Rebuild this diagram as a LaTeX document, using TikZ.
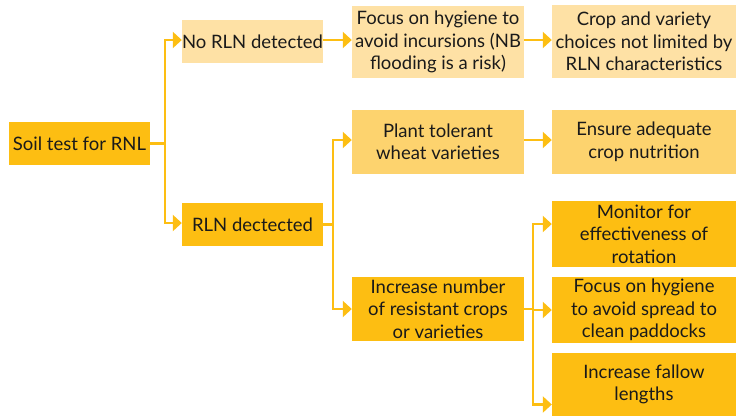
\documentclass[tikz,border=0pt]{standalone}
\usepackage{fontspec}
\setmainfont{Lato}
\usetikzlibrary{arrows.meta,positioning,calc}
\definecolor{cdark}{HTML}{FDBE12}
\definecolor{cmed}{HTML}{FDD36E}
\definecolor{clight}{HTML}{FEE1A5}
\definecolor{ctext}{HTML}{1A1A1A}
\definecolor{carrow}{HTML}{FDBE12}
\begin{document}
\begin{tikzpicture}[x=1pt,y=-1pt,
  box/.style={rectangle, inner sep=0pt, align=center, text=ctext,
    font=\fontsize{18.5}{22.5}\selectfont},
  bdark/.style={box, fill=cdark},
  bmed/.style={box, fill=cmed},
  blight/.style={box, fill=clight},
  conn/.style={draw=carrow, line width=2.4pt},
  arr/.style={conn, -{Triangle[length=9pt,width=16pt]}}]
\useasboundingbox (0,0) rectangle (736,416);
\node[bdark, minimum width=141pt, minimum height=43pt] (soil) at (79.5,143.5) {Soil test for RNL};
\node[blight, minimum width=141pt, minimum height=43pt] (norln) at (252.5,41.5) {No RLN detected};
\node[bdark, minimum width=141pt, minimum height=43pt] (rln) at (252.5,224.5) {RLN dectected};
\node[blight, minimum width=172pt, minimum height=72pt] (focus1) at (438,42) {Focus on hygiene to\\avoid incursions (NB\\flooding is a risk)};
\node[blight, minimum width=184pt, minimum height=73pt] (crop) at (644,41.5) {Crop and variety\\choices not limited by\\RLN characteristics};
\node[bmed, minimum width=172pt, minimum height=64pt] (plant) at (438,142) {Plant tolerant\\wheat varieties};
\node[bmed, minimum width=184pt, minimum height=64pt] (ensure) at (644,142) {Ensure adequate\\crop nutrition};
\node[bdark, minimum width=172pt, minimum height=64pt] (incr) at (438,309) {Increase number\\of resistant crops\\or varieties};
\node[bdark, minimum width=184pt, minimum height=66pt] (monitor) at (644,234) {Monitor for\\effectiveness of\\rotation};
\node[bdark, minimum width=184pt, minimum height=66pt] (focus2) at (644,310) {Focus on hygiene\\to avoid spread to\\clean paddocks};
\node[bdark, minimum width=184pt, minimum height=63pt] (fallow) at (644,384.5) {Increase fallow\\lengths};
\coordinate (t1) at (165,143.5);
\coordinate (t2) at (333,224.5);
\coordinate (t3) at (533,309);
\draw[conn] (soil.east) -- (t1);
\draw[arr] (t1) |- ([yshift=1.5pt]norln.west);
\draw[arr] (t1) |- ([yshift=1.5pt]rln.west);
\draw[arr] ([yshift=1.5pt]norln.east) -- ([yshift=1.5pt]norln.east -| focus1.west);
\draw[arr] ([yshift=1.5pt]norln.east -| focus1.east) -- ([yshift=1.5pt]norln.east -| crop.west);
\draw[conn] (rln.east) -- (t2);
\draw[arr] (t2) |- ([yshift=2pt]plant.west);
\draw[arr] (t2) |- (incr.west);
\draw[arr] ([yshift=2pt]plant.east) -- ([yshift=2pt]ensure.west);
\draw[conn] (incr.east) -- (t3);
\draw[arr] (t3) |- ([yshift=10pt]monitor.west);
\draw[arr] (t3) |- (focus2.west);
\draw[arr] (t3) |- ([yshift=-20pt]fallow.west);
\end{tikzpicture}
\end{document}
